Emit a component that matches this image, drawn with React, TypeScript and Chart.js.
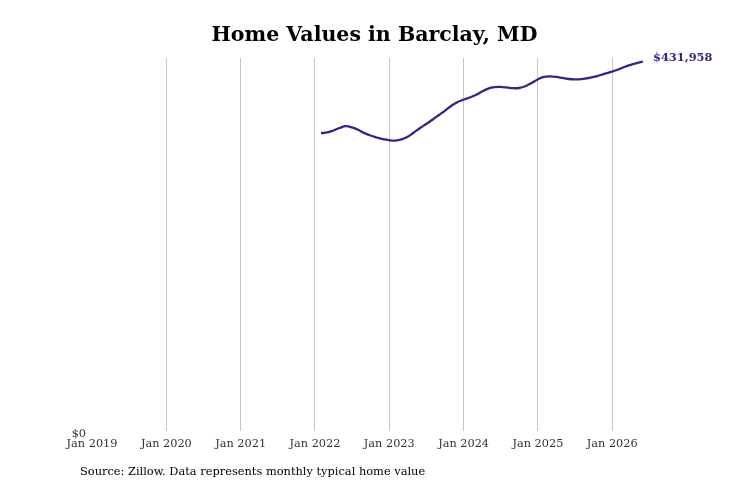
import { useEffect, useRef } from "react"
import { Chart, registerables } from "chart.js"

Chart.register(...registerables)

// Months Jan 2022 .. May 2026 (end-of-month values)
const startYear = 2022
const monthCount = 53
const homeValues = [
  348300, 349200, 351500, 354400, 356500, 355200, 352300, 348600, 345600, 343300, 341300, 340100,
  339700, 341000, 344100, 349200, 354400, 359100, 364100, 369300, 374500, 380200, 384500, 387400,
  390100, 393000, 397100, 400400, 402100, 402400, 401800, 401000, 401200, 403200, 407000, 411200,
  414100, 414700, 414100, 412900, 411700, 411300, 411500, 412600, 414100, 416100, 418200, 420300,
  422800, 425800, 428300, 430400, 431958,
]
const tickYears = [2019, 2020, 2021, 2022, 2023, 2024, 2025, 2026]

const lineColor = "#2d2a80"
const fontFamily = "'DejaVu Serif', serif"

// fractional year at the end of each month
const xValues = Array.from({ length: monthCount }, (_, i) => startYear + (i + 1) / 12 - 1 / 365)

export default function App() {
  const chartRef = useRef<HTMLCanvasElement>(null)
  const chartInstance = useRef<Chart | null>(null)

  useEffect(() => {
    document.body.style.margin = "0"
    if (!chartRef.current) return
    if (chartInstance.current) chartInstance.current.destroy()

    const lastValue = homeValues[homeValues.length - 1]

    // value label at the end of the line
    const endLabel = {
      id: "endLabel",
      afterDatasetsDraw(chart: Chart) {
        const meta = chart.getDatasetMeta(0)
        const pt = meta.data[meta.data.length - 1]
        if (!pt) return
        const ctx = chart.ctx
        ctx.save()
        ctx.font = `bold 11.4px ${fontFamily}`
        ctx.fillStyle = lineColor
        ctx.textAlign = "left"
        ctx.textBaseline = "middle"
        ctx.fillText("$" + lastValue.toLocaleString("en-US"), pt.x + 10, pt.y - 4)
        ctx.restore()
      },
    }

    chartInstance.current = new Chart(chartRef.current, {
      type: "line",
      data: {
        datasets: [
          {
            data: xValues.map((x, i) => ({ x, y: homeValues[i] })),
            borderColor: lineColor,
            borderWidth: 2.3,
            pointRadius: 0,
            tension: 0.4,
            fill: false,
          },
        ],
      },
      options: {
        responsive: false,
        animation: false,
        layout: { padding: { top: 58, right: 88, bottom: 0, left: 0 } },
        plugins: {
          legend: { display: false },
          tooltip: { enabled: false },
        },
        scales: {
          x: {
            type: "linear",
            min: 2019,
            max: xValues[xValues.length - 1],
            border: { display: false },
            grid: {
              drawTicks: false,
              color: (c: any) => (c.tick && c.tick.value === 2019 ? "rgba(0,0,0,0)" : "#c8c8c8"),
            },
            afterBuildTicks: (scale: any) => {
              scale.ticks = tickYears.map((v) => ({ value: v }))
            },
            afterFit: (scale: any) => {
              scale.height = 56
            },
            ticks: {
              padding: 6,
              maxRotation: 0,
              autoSkip: false,
              color: "#333",
              font: { family: fontFamily, size: 11.3 },
              callback: (v: any) => "Jan " + v,
            },
          },
          y: {
            min: 0,
            max: lastValue * 1.01,
            border: { display: false },
            grid: { display: false, drawTicks: false },
            afterBuildTicks: (scale: any) => {
              scale.ticks = [{ value: 0 }]
            },
            afterFit: (scale: any) => {
              scale.width = 92
            },
            ticks: {
              padding: 6,
              labelOffset: 3,
              color: "#333",
              font: { family: fontFamily, size: 11.3 },
              callback: () => "$0",
            },
          },
        },
      },
      plugins: [endLabel],
    })

    return () => {
      if (chartInstance.current) {
        chartInstance.current.destroy()
        chartInstance.current = null
      }
    }
  }, [])

  return (
    <div style={{ position: "relative", width: 731, height: 487, background: "#fff" }}>
      <canvas ref={chartRef} width={731} height={487} style={{ position: "absolute", left: 0, top: 0 }}></canvas>
      <div
        style={{
          position: "absolute",
          top: 22,
          left: 0,
          width: 749,
          textAlign: "center",
          fontFamily,
          fontWeight: "bold",
          fontSize: 20.5,
          color: "#000",
        }}
      >
        Home Values in Barclay, MD
      </div>
      <div
        style={{
          position: "absolute",
          top: 464,
          left: 80,
          fontFamily,
          fontSize: 11.4,
          color: "#000",
        }}
      >
        Source: Zillow. Data represents monthly typical home value
      </div>
    </div>
  )
}
